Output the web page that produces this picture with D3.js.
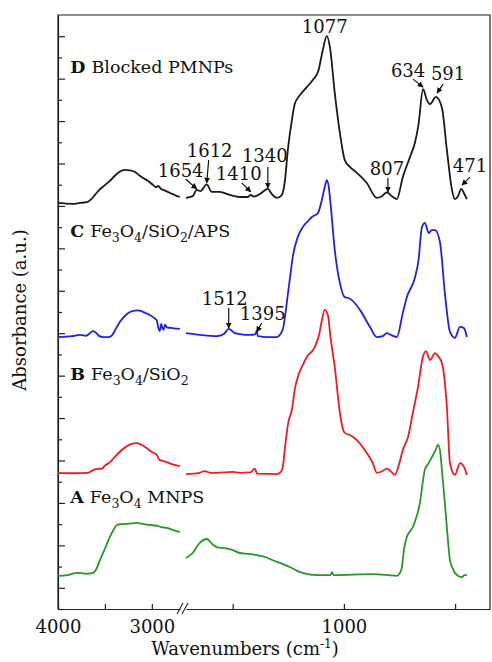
<!DOCTYPE html>
<html>
<head>
<meta charset="utf-8">
<script src="https://cdn.jsdelivr.net/npm/d3@7"></script>
<style>
  body { margin: 0; background: #fff; }
  text { font-family: "DejaVu Serif", serif; fill: #111; }
</style>
</head>
<body>
<div id="chart"></div>
<script>
// spectra: [wavenumber (cm-1), absorbance (a.u.)], split at the axis break
const blockedHigh = [[4000,0.957],[3850,0.955],[3766,0.957],[3690,0.959],[3645,0.966],[3606,0.976],[3560,0.988],[3500,0.999],[3447,1.009],[3400,1.020],[3340,1.031],[3290,1.035],[3234,1.034],[3180,1.030],[3128,1.021],[3080,1.014],[3040,1.009],[2990,1.000],[2955,0.994],[2935,0.997],[2900,0.990],[2860,0.986],[2800,0.980],[2750,0.975],[2702,0.971]];
const blockedLow = [[1710,0.969],[1680,0.973],[1662,0.988],[1645,0.985],[1617,1.001],[1594,0.983],[1558,0.983],[1513,0.976],[1468,0.971],[1432,0.971],[1419,0.976],[1405,0.972],[1378,0.978],[1342,0.990],[1324,0.978],[1302,0.969],[1280,0.975],[1265,1.010],[1252,1.082],[1234,1.152],[1221,1.190],[1198,1.211],[1167,1.230],[1140,1.247],[1115,1.268],[1095,1.317],[1077,1.350],[1063,1.325],[1041,1.216],[1018,1.122],[996,1.058],[973,1.042],[942,1.028],[897,1.004],[852,0.969],[829,0.973],[807,0.982],[784,0.973],[762,0.966],[735,1.018],[703,1.065],[680,1.100],[665,1.140],[644,1.225],[627,1.200],[613,1.190],[586,1.207],[559,1.181],[537,1.082],[514,0.988],[501,0.966],[487,0.973],[472,0.990],[460,0.980],[447,0.966]];

const apsHigh = [[4000,0.641],[3850,0.643],[3766,0.646],[3700,0.644],[3660,0.650],[3628,0.655],[3600,0.652],[3560,0.643],[3521,0.641],[3460,0.641],[3425,0.645],[3380,0.662],[3340,0.677],[3290,0.690],[3234,0.700],[3160,0.704],[3128,0.703],[3060,0.697],[3021,0.693],[2970,0.685],[2947,0.680],[2930,0.662],[2915,0.655],[2900,0.672],[2890,0.664],[2875,0.658],[2860,0.670],[2840,0.664],[2780,0.662],[2702,0.660]];
const apsLow = [[1710,0.650],[1648,0.646],[1572,0.643],[1540,0.648],[1518,0.660],[1490,0.650],[1468,0.648],[1420,0.646],[1398,0.648],[1392,0.656],[1387,0.643],[1340,0.641],[1302,0.641],[1285,0.648],[1272,0.665],[1262,0.700],[1250,0.750],[1240,0.790],[1230,0.830],[1207,0.877],[1185,0.900],[1160,0.915],[1144,0.924],[1117,0.933],[1099,0.964],[1086,0.995],[1077,1.011],[1068,0.995],[1060,0.955],[1041,0.846],[1018,0.768],[996,0.735],[980,0.733],[964,0.728],[928,0.705],[883,0.665],[852,0.641],[825,0.643],[807,0.650],[785,0.645],[762,0.641],[735,0.698],[717,0.735],[681,0.780],[665,0.820],[649,0.900],[636,0.910],[618,0.886],[605,0.893],[590,0.893],[568,0.865],[546,0.745],[523,0.653],[501,0.639],[478,0.665],[460,0.662],[447,0.641]];

const silicaHigh = [[4000,0.321],[3850,0.320],[3681,0.321],[3620,0.328],[3585,0.330],[3532,0.331],[3500,0.338],[3447,0.346],[3380,0.362],[3308,0.377],[3230,0.388],[3159,0.391],[3100,0.386],[3053,0.379],[3000,0.370],[2947,0.363],[2930,0.355],[2915,0.351],[2880,0.349],[2840,0.346],[2780,0.341],[2702,0.337]];
const silicaLow = [[1710,0.318],[1650,0.321],[1626,0.325],[1600,0.321],[1572,0.321],[1500,0.323],[1468,0.321],[1420,0.322],[1401,0.331],[1390,0.319],[1302,0.318],[1285,0.322],[1275,0.334],[1265,0.380],[1250,0.440],[1234,0.469],[1220,0.520],[1207,0.547],[1185,0.575],[1167,0.594],[1131,0.617],[1110,0.650],[1099,0.681],[1086,0.705],[1072,0.693],[1060,0.640],[1041,0.570],[1018,0.462],[1005,0.425],[996,0.415],[973,0.410],[942,0.398],[900,0.370],[870,0.344],[852,0.321],[830,0.324],[807,0.331],[790,0.325],[771,0.316],[750,0.345],[735,0.375],[712,0.405],[690,0.462],[667,0.523],[645,0.594],[631,0.608],[613,0.587],[590,0.603],[575,0.595],[559,0.580],[537,0.476],[523,0.344],[501,0.316],[478,0.344],[460,0.335],[447,0.316]];

const mnpHigh = [[4000,0.078],[3900,0.080],[3800,0.085],[3766,0.085],[3700,0.083],[3628,0.085],[3590,0.095],[3553,0.115],[3500,0.142],[3447,0.170],[3400,0.190],[3372,0.198],[3319,0.200],[3240,0.201],[3159,0.203],[3090,0.200],[3021,0.198],[2940,0.196],[2900,0.193],[2840,0.191],[2770,0.186],[2702,0.181]];
const mnpLow = [[1710,0.120],[1680,0.132],[1648,0.156],[1617,0.165],[1590,0.152],[1572,0.146],[1530,0.143],[1500,0.139],[1468,0.132],[1430,0.130],[1392,0.127],[1350,0.122],[1320,0.115],[1280,0.107],[1243,0.099],[1210,0.090],[1185,0.085],[1150,0.081],[1122,0.080],[1060,0.080],[1054,0.087],[1046,0.080],[960,0.081],[883,0.082],[800,0.080],[762,0.078],[748,0.085],[739,0.099],[730,0.140],[717,0.170],[700,0.185],[690,0.193],[675,0.215],[658,0.250],[645,0.300],[636,0.328],[620,0.343],[604,0.358],[590,0.372],[577,0.387],[568,0.375],[558,0.320],[546,0.250],[535,0.180],[523,0.115],[510,0.095],[501,0.085],[469,0.075],[458,0.080],[447,0.080]];

const highTicks = [4000, 3500, 3000];
const lowTicks = [1500, 1000, 500];
const tickLabels = [4000, 3000, 1000];

// peak labels: [text, arrow tip wavenumber, tip absorbance, tail dx, tail dy, label dx, label dy]
const peaks = [
  ["1654", 1662, 0.990, -11, -10, -16, -12],
  ["1612", 1617, 1.004, 2, -23, 3, -26],
  ["1410", 1419, 0.983, -9, -9, -12, -12],
  ["1340", 1342, 0.992, 0, -21, -3, -26],
  ["1077", 1077, 1.350, 0, 0, -2, -3],
  ["807", 802, 0.983, 0, -14, -1, -17],
  ["634", 644, 1.230, -10, -8, -15, -10],
  ["591", 581, 1.216, 6, -9, 11, -13],
  ["471", 469, 0.999, 8, -8, 8, -13],
  ["1512", 1518, 0.662, 0, -20, -4, -23],
  ["1395", 1392, 0.653, 5, -9, 6, -12]
];

const width = 492, height = 662;
const m = { left: 58, top: 15, right: 490, bottom: 609 };

const xHigh = d3.scaleLinear().domain([4000, 2700]).range([m.left, 180]);
const xLow = d3.scaleLinear().domain([1710, 343]).range([186, m.right]);
const y = d3.scaleLinear().domain([0, 1.4]).range([m.bottom, m.top]);

const svg = d3.select("#chart").append("svg")
  .attr("width", width)
  .attr("height", height);

svg.append("defs").append("marker")
  .attr("id", "head")
  .attr("viewBox", "0 0 10 10")
  .attr("refX", 9).attr("refY", 5)
  .attr("markerWidth", 6).attr("markerHeight", 6)
  .attr("markerUnits", "userSpaceOnUse")
  .attr("orient", "auto")
  .append("path").attr("d", "M0,0L10,5L0,10z").attr("fill", "#111");

// frame (bottom is drawn by the two axes)
svg.append("path")
  .attr("d", `M${m.left},${m.bottom}V${m.top}H${m.right}V${m.bottom}`)
  .attr("fill", "none").attr("stroke", "#222").attr("stroke-width", 1.2);

const fmt = d => tickLabels.includes(d) ? d : "";

const axHigh = svg.append("g").attr("transform", `translate(0,${m.bottom})`)
  .call(d3.axisBottom(xHigh).tickValues(highTicks).tickSize(-5).tickSizeOuter(0).tickPadding(11).tickFormat(fmt));
const axLow = svg.append("g").attr("transform", `translate(0,${m.bottom})`)
  .call(d3.axisBottom(xLow).tickValues(lowTicks).tickSize(-5).tickSizeOuter(0).tickPadding(11).tickFormat(fmt));

const yTicks = d3.range(0, 28).map(i => i * 0.05);
const axY = svg.append("g").attr("transform", `translate(${m.left},0)`)
  .call(d3.axisLeft(y).tickValues(yTicks).tickSize(-4).tickSizeOuter(0).tickFormat(""));
axY.selectAll(".tick line").attr("x2", (d, i) => i % 2 ? 7 : 4);

[axHigh, axLow, axY].forEach(g => {
  g.selectAll(".domain, .tick line").attr("stroke", "#222").attr("stroke-width", 1.2);
  g.selectAll("text").style("font-family", "'DejaVu Serif', serif").style("font-size", "18px").attr("fill", "#111");
});

// axis break marks
const bx = (xHigh.range()[1] + xLow.range()[0]) / 2;
[-3, 2].forEach(o => {
  svg.append("line")
    .attr("x1", bx + o - 3).attr("y1", m.bottom + 5)
    .attr("x2", bx + o + 3).attr("y2", m.bottom - 6)
    .attr("stroke", "#222").attr("stroke-width", 1.1);
});

// spectra
const series = [
  { color: "#1a1a1a", high: blockedHigh, low: blockedLow },
  { color: "#1f22e0", high: apsHigh, low: apsLow },
  { color: "#ec1c24", high: silicaHigh, low: silicaLow },
  { color: "#2a952a", high: mnpHigh, low: mnpLow }
];

const lineFor = x => d3.line().x(d => x(d[0])).y(d => y(d[1])).curve(d3.curveMonotoneX);

series.forEach(s => {
  [[s.high, xHigh], [s.low, xLow]].forEach(([data, x]) => {
    svg.append("path")
      .datum(data)
      .attr("d", lineFor(x))
      .attr("fill", "none")
      .attr("stroke", s.color)
      .attr("stroke-width", 1.8)
      .attr("stroke-linejoin", "round");
  });
});

// sample labels
const sampleLabels = [
  { letter: "D", level: 1.263, parts: [["Blocked PMNPs"]] },
  { letter: "C", level: 0.877, parts: [["Fe"], ["3", 1], ["O"], ["4", 1], ["/SiO"], ["2", 1], ["/APS"]] },
  { letter: "B", level: 0.540, parts: [["Fe"], ["3", 1], ["O"], ["4", 1], ["/SiO"], ["2", 1]] },
  { letter: "A", level: 0.250, parts: [["Fe"], ["3", 1], ["O"], ["4", 1], [" MNPS"]] }
];

sampleLabels.forEach(l => {
  const t = svg.append("text")
    .attr("x", xHigh(3870))
    .attr("y", y(l.level))
    .style("font-size", "17.5px");
  t.append("tspan").attr("font-weight", "bold").text(l.letter + " ");
  let sub = false;
  l.parts.forEach(([s, isSub]) => {
    const sp = t.append("tspan").text(s);
    if (isSub && !sub) sp.attr("dy", 5).style("font-size", "12.5px");
    else if (isSub) sp.style("font-size", "12.5px");
    else if (sub) sp.attr("dy", -5);
    sub = !!isSub;
  });
});

// peak annotations
peaks.forEach(([label, wn, a, tdx, tdy, ldx, ldy]) => {
  const px = wn > 2000 ? xHigh(wn) : xLow(wn);
  const py = y(a);
  if (tdx || tdy) {
    svg.append("line")
      .attr("x1", px + tdx).attr("y1", py + tdy)
      .attr("x2", px).attr("y2", py)
      .attr("stroke", "#111").attr("stroke-width", 1.2)
      .attr("marker-end", "url(#head)");
  }
  svg.append("text")
    .attr("x", px + ldx).attr("y", py + ldy)
    .attr("text-anchor", "middle")
    .style("font-size", "18px")
    .text(label);
});

// axis titles
const xt = svg.append("text")
  .attr("x", 245).attr("y", 655)
  .attr("text-anchor", "middle")
  .style("font-size", "18px");
xt.append("tspan").text("Wavenumbers (cm");
xt.append("tspan").attr("dy", -7).style("font-size", "12px").text("-1");
xt.append("tspan").attr("dy", 7).text(")");

svg.append("text")
  .attr("transform", "translate(26,310) rotate(-90)")
  .attr("text-anchor", "middle")
  .style("font-size", "18px")
  .text("Absorbance (a.u.)");
</script>
</body>
</html>
